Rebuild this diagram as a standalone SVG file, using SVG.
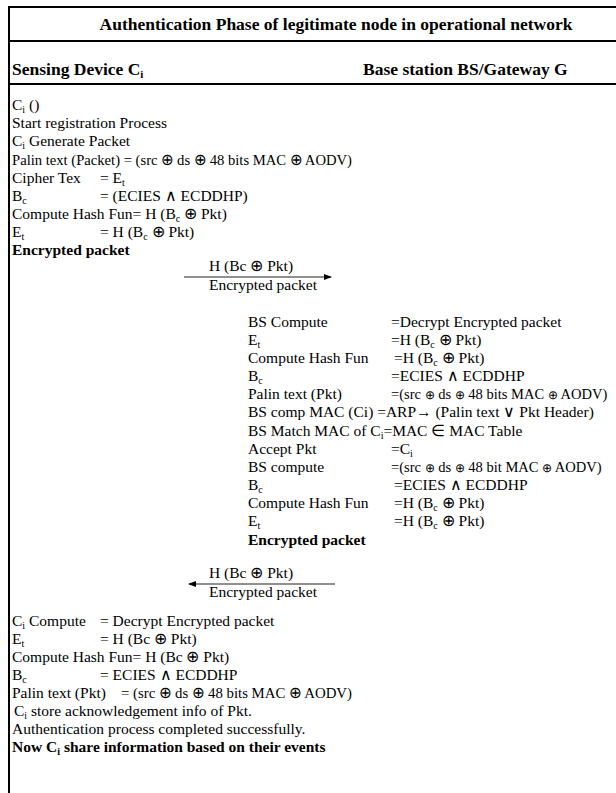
<svg xmlns="http://www.w3.org/2000/svg" width="616" height="793" viewBox="0 0 616 793">
<style>
text{font-family:"Liberation Serif","Times New Roman",serif;font-size:15.5px;fill:#000}
.b{font-weight:bold}
.h{font-size:17.5px;font-weight:bold}
.t{font-size:17.5px;font-weight:bold}
.s{font-size:10px}
.hs{font-size:11px}
.n{font-size:14.5px}
.o{font-size:12px}
.frame{stroke:#000;stroke-width:2;fill:none}
.conn{stroke:#222;stroke-width:1.2;fill:none}
</style>
<defs>
<marker id="ah" markerWidth="8" markerHeight="6" refX="7" refY="3" orient="auto" markerUnits="userSpaceOnUse">
<path d="M0,0 L8,3 L0,6 Z" fill="#000"/>
</marker>
</defs>
<g id="frame">
<path class="frame" d="M9,793 V7 H616 M9,41 H616 M9,84 H616"/>
</g>
<g id="header">
<text class="t" x="336" y="30" text-anchor="middle">Authentication Phase of legitimate node in operational network</text>
<text class="h" x="12" y="75">Sensing Device C<tspan class="hs" dy="3">i</tspan></text>
<text class="h" x="363" y="75">Base station BS/Gateway G</text>
</g>
<g id="sensing-device">
<text x="12" y="110">C<tspan class="s" dy="3">i</tspan><tspan dy="-3"> ()</tspan></text>
<text x="12" y="128">Start registration Process</text>
<text x="12" y="146">C<tspan class="s" dy="3">i</tspan><tspan dy="-3"> Generate Packet</tspan></text>
<text x="12" y="165" textLength="340" lengthAdjust="spacingAndGlyphs">Palin text (Packet) =  (src ⊕  ds ⊕  48 bits MAC ⊕ AODV)</text>
<text x="12" y="183">Cipher Tex</text><text x="100" y="183">= E<tspan class="s" dy="3">t</tspan></text>
<text x="12" y="201">B<tspan class="s" dy="3">c</tspan></text><text x="100" y="201">= (ECIES ∧  ECDDHP)</text>
<text x="12" y="219">Compute Hash Fun= H (B<tspan class="s" dy="3">c</tspan><tspan dy="-3"> ⊕  Pkt)</tspan></text>
<text x="12" y="237">E<tspan class="s" dy="3">t</tspan></text><text x="100" y="237">=  H (B<tspan class="s" dy="3">c</tspan><tspan dy="-3"> ⊕  Pkt)</tspan></text>
<text class="b" x="12" y="255">Encrypted packet</text>
</g>
<g id="base-station">
<text x="248" y="327">BS Compute</text><text x="391" y="327">=Decrypt Encrypted packet</text>
<text x="248" y="345">E<tspan class="s" dy="3">t</tspan></text><text x="391" y="345">=H (B<tspan class="s" dy="3">c</tspan><tspan dy="-3"> ⊕ Pkt)</tspan></text>
<text x="248" y="363">Compute Hash Fun</text><text x="394" y="363">=H (B<tspan class="s" dy="3">c</tspan><tspan dy="-3"> ⊕ Pkt)</tspan></text>
<text x="248" y="381">B<tspan class="s" dy="3">c</tspan></text><text x="391" y="381">=ECIES ∧ ECDDHP</text>
<text x="248" y="399">Palin text (Pkt)</text><text class="n" x="391" y="399">=(src <tspan class="o">⊕</tspan> ds <tspan class="o">⊕</tspan> 48 bits MAC <tspan class="o">⊕</tspan> AODV)</text>
<text x="248" y="417">BS comp MAC (Ci)  =ARP→ (Palin text ∨ Pkt Header)</text>
<text x="248" y="436">BS Match MAC of C<tspan class="s" dy="3">i</tspan><tspan dy="-3">=MAC ∈ MAC Table</tspan></text>
<text x="248" y="454">Accept Pkt</text><text x="391" y="454">=C<tspan class="s" dy="3">i</tspan></text>
<text x="248" y="472">BS compute</text><text class="n" x="391" y="472">=(src <tspan class="o">⊕</tspan> ds <tspan class="o">⊕</tspan> 48 bit MAC <tspan class="o">⊕</tspan> AODV)</text>
<text x="248" y="490">B<tspan class="s" dy="3">c</tspan></text><text x="394" y="490">=ECIES ∧ ECDDHP</text>
<text x="248" y="508">Compute Hash Fun</text><text x="394" y="508">=H (B<tspan class="s" dy="3">c</tspan><tspan dy="-3"> ⊕ Pkt)</tspan></text>
<text x="248" y="526">E<tspan class="s" dy="3">t</tspan></text><text x="394" y="526">=H (B<tspan class="s" dy="3">c</tspan><tspan dy="-3"> ⊕ Pkt)</tspan></text>
<text class="b" x="248" y="545">Encrypted packet</text>
</g>
<g id="sensing-device-verify">
<text x="12" y="626">C<tspan class="s" dy="3">i</tspan><tspan dy="-3"> Compute</tspan></text><text x="100" y="626">= Decrypt Encrypted packet</text>
<text x="12" y="644">E<tspan class="s" dy="3">t</tspan></text><text x="100" y="644">=  H (Bc ⊕ Pkt)</text>
<text x="12" y="662">Compute Hash Fun= H (Bc ⊕ Pkt)</text>
<text x="12" y="680">B<tspan class="s" dy="3">c</tspan></text><text x="100" y="680">= ECIES ∧ ECDDHP</text>
<text x="12" y="698">Palin text (Pkt)</text><text x="121" y="698" textLength="231" lengthAdjust="spacingAndGlyphs">=  (src ⊕ ds ⊕ 48 bits MAC ⊕ AODV)</text>
<text x="14" y="716">C<tspan class="s" dy="3">i</tspan><tspan dy="-3"> store acknowledgement info of Pkt.</tspan></text>
<text x="12" y="734">Authentication process completed successfully.</text>
<text class="b" x="12" y="752">Now C<tspan class="s" dy="3">i</tspan><tspan dy="-3"> share information based on their events</tspan></text>
</g>
<g id="connectors">
<line class="conn" x1="184" y1="277" x2="331" y2="277" marker-end="url(#ah)"/>
<text x="209" y="271">H (Bc ⊕  Pkt)</text>
<text x="209" y="290">Encrypted packet</text>
<line class="conn" x1="335" y1="584" x2="189" y2="584" marker-end="url(#ah)"/>
<text x="209" y="578">H (Bc ⊕  Pkt)</text>
<text x="209" y="597">Encrypted packet</text>
</g>
</svg>
